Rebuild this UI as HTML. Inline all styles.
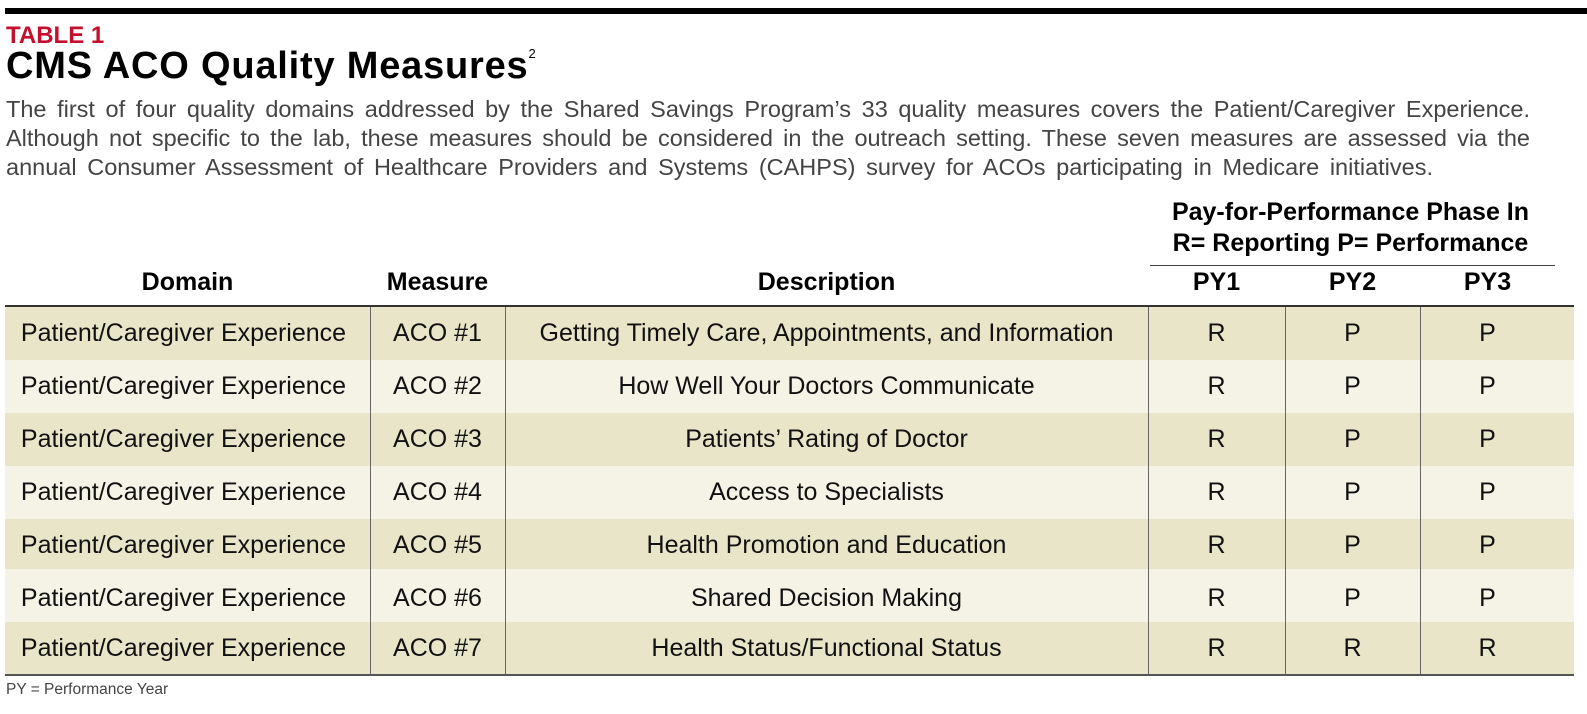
<!DOCTYPE html>
<html><head><style>
body{margin:0;width:1587px;height:714px;background:#fff;position:relative;font-family:"Liberation Sans",Arial,sans-serif;overflow:hidden}
.a{position:absolute;white-space:nowrap}
.bar{position:absolute;left:5px;top:8px;width:1582px;height:6px;background:#000}
.p{font-size:23.5px;color:#444;left:6px;text-align:justify;text-align-last:justify;white-space:nowrap}
.h{font-weight:bold;font-size:25px;color:#000;text-align:center}
.row{position:absolute;left:5px;width:1569px;height:53px}
.c{position:absolute;top:0;height:53px;line-height:53px;text-align:center;font-size:25px;color:#111;white-space:nowrap}
.v{position:absolute;top:307px;width:1px;height:368px;background:#666}
</style></head><body>
<div class="bar"></div>
<div class="a" style="left:6px;top:22px;font-size:24px;font-weight:bold;color:#c4102e;">TABLE 1</div>
<div class="a" style="left:6px;top:45px;font-size:38px;font-weight:bold;color:#000;letter-spacing:0.8px">CMS ACO Quality Measures<sup style="font-size:13px;font-weight:normal;vertical-align:20px">2</sup></div>
<div class="a p" style="top:96px;width:1524px">The first of four quality domains addressed by the Shared Savings Program’s 33 quality measures covers the Patient/Caregiver Experience.</div>
<div class="a p" style="top:125px;width:1524px">Although not specific to the lab, these measures should be considered in the outreach setting. These seven measures are assessed via the</div>
<div class="a p" style="top:154px;width:1427px">annual Consumer Assessment of Healthcare Providers and Systems (CAHPS) survey for ACOs participating in Medicare initiatives.</div>
<div class="a h" style="left:1148px;width:405px;top:198px">Pay-for-Performance Phase In</div>
<div class="a h" style="left:1148px;width:405px;top:229px">R= Reporting P= Performance</div>
<div class="a" style="left:1150px;top:265px;width:405px;height:1px;background:#444"></div>
<div class="a h" style="left:5px;width:365px;top:268px">Domain</div>
<div class="a h" style="left:370px;width:135px;top:268px">Measure</div>
<div class="a h" style="left:505px;width:643px;top:268px">Description</div>
<div class="a h" style="left:1148px;width:137px;top:268px">PY1</div>
<div class="a h" style="left:1285px;width:135px;top:268px">PY2</div>
<div class="a h" style="left:1420px;width:135px;top:268px">PY3</div>

<div class="row" style="top:307px;background:#e9e5c8"><div class="c" style="left:0;width:357px">Patient/Caregiver Experience</div><div class="c" style="left:365px;width:135px">ACO #1</div><div class="c" style="left:500px;width:643px">Getting Timely Care, Appointments, and Information</div><div class="c" style="left:1143px;width:137px">R</div><div class="c" style="left:1280px;width:135px">P</div><div class="c" style="left:1415px;width:135px">P</div></div>
<div class="row" style="top:360px;background:#f5f3e6"><div class="c" style="left:0;width:357px">Patient/Caregiver Experience</div><div class="c" style="left:365px;width:135px">ACO #2</div><div class="c" style="left:500px;width:643px">How Well Your Doctors Communicate</div><div class="c" style="left:1143px;width:137px">R</div><div class="c" style="left:1280px;width:135px">P</div><div class="c" style="left:1415px;width:135px">P</div></div>
<div class="row" style="top:413px;background:#e9e5c8"><div class="c" style="left:0;width:357px">Patient/Caregiver Experience</div><div class="c" style="left:365px;width:135px">ACO #3</div><div class="c" style="left:500px;width:643px">Patients’ Rating of Doctor</div><div class="c" style="left:1143px;width:137px">R</div><div class="c" style="left:1280px;width:135px">P</div><div class="c" style="left:1415px;width:135px">P</div></div>
<div class="row" style="top:466px;background:#f5f3e6"><div class="c" style="left:0;width:357px">Patient/Caregiver Experience</div><div class="c" style="left:365px;width:135px">ACO #4</div><div class="c" style="left:500px;width:643px">Access to Specialists</div><div class="c" style="left:1143px;width:137px">R</div><div class="c" style="left:1280px;width:135px">P</div><div class="c" style="left:1415px;width:135px">P</div></div>
<div class="row" style="top:519px;background:#e9e5c8"><div class="c" style="left:0;width:357px">Patient/Caregiver Experience</div><div class="c" style="left:365px;width:135px">ACO #5</div><div class="c" style="left:500px;width:643px">Health Promotion and Education</div><div class="c" style="left:1143px;width:137px">R</div><div class="c" style="left:1280px;width:135px">P</div><div class="c" style="left:1415px;width:135px">P</div></div>
<div class="row" style="top:569px;height:53px;background:#f5f3e6"><div class="c" style="left:0;width:357px;top:3px">Patient/Caregiver Experience</div><div class="c" style="left:365px;width:135px;top:3px">ACO #6</div><div class="c" style="left:500px;width:643px;top:3px">Shared Decision Making</div><div class="c" style="left:1143px;width:137px;top:3px">R</div><div class="c" style="left:1280px;width:135px;top:3px">P</div><div class="c" style="left:1415px;width:135px;top:3px">P</div></div>
<div class="row" style="top:622px;background:#e9e5c8"><div class="c" style="left:0;width:357px">Patient/Caregiver Experience</div><div class="c" style="left:365px;width:135px">ACO #7</div><div class="c" style="left:500px;width:643px">Health Status/Functional Status</div><div class="c" style="left:1143px;width:137px">R</div><div class="c" style="left:1280px;width:135px">R</div><div class="c" style="left:1415px;width:135px">R</div></div>

<div class="v" style="left:370px"></div>
<div class="v" style="left:505px"></div>
<div class="v" style="left:1148px"></div>
<div class="v" style="left:1285px"></div>
<div class="v" style="left:1420px"></div>
<div class="a" style="left:5px;top:305px;width:1569px;height:2px;background:#333"></div>
<div class="a" style="left:5px;top:674px;width:1569px;height:2px;background:#555"></div>
<div class="a" style="left:6px;top:681px;font-size:15.5px;color:#444">PY = Performance Year</div>
</body></html>
